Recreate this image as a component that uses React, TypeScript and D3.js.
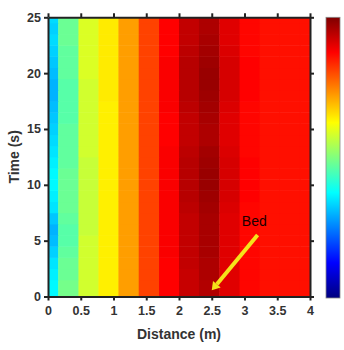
import React, { useRef, useEffect } from 'react';
import * as d3 from 'd3';

// distance grid points (m) – column centres
const distances = [0, 0.31, 0.62, 0.92, 1.23, 1.54, 1.85, 2.15, 2.46, 2.77, 3.08, 3.38, 3.69, 4];
// time grid points (s) – row centres
const times = [0, 1, 2, 3, 4, 5, 6, 7, 8, 9, 10, 11, 12, 13, 14, 15, 16, 17, 18, 19, 20, 21, 22, 23, 24, 25];

// normalised intensity, one row per time step (bottom -> top)
const values = [
  [0.37, 0.49, 0.58, 0.64, 0.72, 0.81, 0.875, 0.93, 0.95, 0.905, 0.87, 0.86, 0.86, 0.86],
  [0.37, 0.49, 0.58, 0.64, 0.72, 0.81, 0.875, 0.93, 0.95, 0.905, 0.87, 0.86, 0.86, 0.86],
  [0.36, 0.48, 0.58, 0.64, 0.72, 0.81, 0.875, 0.93, 0.955, 0.905, 0.87, 0.86, 0.86, 0.86],
  [0.35, 0.48, 0.58, 0.64, 0.72, 0.81, 0.875, 0.935, 0.955, 0.905, 0.87, 0.86, 0.86, 0.86],
  [0.33, 0.47, 0.58, 0.64, 0.72, 0.81, 0.88, 0.935, 0.96, 0.905, 0.87, 0.86, 0.86, 0.86],
  [0.31, 0.46, 0.58, 0.64, 0.72, 0.81, 0.88, 0.935, 0.96, 0.905, 0.87, 0.86, 0.86, 0.86],
  [0.30, 0.46, 0.57, 0.64, 0.72, 0.81, 0.88, 0.935, 0.96, 0.905, 0.87, 0.86, 0.86, 0.86],
  [0.32, 0.47, 0.57, 0.64, 0.72, 0.81, 0.88, 0.935, 0.96, 0.905, 0.87, 0.86, 0.86, 0.86],
  [0.35, 0.48, 0.57, 0.64, 0.72, 0.81, 0.88, 0.94, 0.965, 0.91, 0.87, 0.86, 0.86, 0.86],
  [0.36, 0.48, 0.57, 0.64, 0.72, 0.81, 0.88, 0.945, 0.97, 0.915, 0.875, 0.86, 0.86, 0.86],
  [0.37, 0.48, 0.57, 0.64, 0.72, 0.81, 0.88, 0.945, 0.975, 0.915, 0.875, 0.86, 0.86, 0.86],
  [0.37, 0.48, 0.57, 0.64, 0.72, 0.81, 0.88, 0.945, 0.975, 0.915, 0.875, 0.86, 0.86, 0.86],
  [0.36, 0.47, 0.57, 0.64, 0.72, 0.81, 0.88, 0.945, 0.97, 0.915, 0.875, 0.86, 0.86, 0.86],
  [0.35, 0.47, 0.58, 0.64, 0.72, 0.81, 0.88, 0.94, 0.965, 0.91, 0.87, 0.86, 0.86, 0.86],
  [0.34, 0.47, 0.58, 0.64, 0.72, 0.81, 0.875, 0.935, 0.955, 0.905, 0.87, 0.86, 0.86, 0.86],
  [0.33, 0.47, 0.58, 0.64, 0.72, 0.81, 0.875, 0.935, 0.955, 0.905, 0.87, 0.86, 0.86, 0.86],
  [0.32, 0.46, 0.58, 0.64, 0.72, 0.81, 0.875, 0.935, 0.96, 0.905, 0.87, 0.86, 0.86, 0.86],
  [0.31, 0.46, 0.58, 0.64, 0.72, 0.81, 0.88, 0.94, 0.965, 0.91, 0.87, 0.86, 0.86, 0.86],
  [0.30, 0.46, 0.58, 0.645, 0.72, 0.81, 0.88, 0.945, 0.97, 0.915, 0.875, 0.86, 0.86, 0.86],
  [0.30, 0.46, 0.58, 0.645, 0.72, 0.81, 0.88, 0.945, 0.975, 0.915, 0.875, 0.86, 0.86, 0.86],
  [0.31, 0.47, 0.59, 0.645, 0.72, 0.81, 0.88, 0.945, 0.975, 0.915, 0.875, 0.86, 0.86, 0.86],
  [0.32, 0.47, 0.59, 0.645, 0.72, 0.81, 0.88, 0.945, 0.97, 0.915, 0.875, 0.86, 0.86, 0.86],
  [0.33, 0.47, 0.59, 0.645, 0.72, 0.81, 0.875, 0.94, 0.965, 0.91, 0.87, 0.86, 0.86, 0.86],
  [0.34, 0.48, 0.59, 0.645, 0.72, 0.81, 0.875, 0.935, 0.96, 0.905, 0.87, 0.86, 0.86, 0.86],
  [0.33, 0.48, 0.59, 0.645, 0.72, 0.81, 0.875, 0.935, 0.955, 0.905, 0.87, 0.86, 0.86, 0.86],
  [0.34, 0.48, 0.59, 0.645, 0.72, 0.81, 0.875, 0.935, 0.955, 0.905, 0.87, 0.86, 0.86, 0.86],
];

const xTicks = [0, 0.5, 1, 1.5, 2, 2.5, 3, 3.5, 4];
const yTicks = [0, 5, 10, 15, 20, 25];

// jet colormap stops
const jetStops = [0, 0.125, 0.375, 0.625, 0.875, 1];
const jetColors = ['#00007f', '#0000ff', '#00ffff', '#ffff00', '#ff0000', '#7f0000'];

// arrow pointing at the bed, in data units
const arrowFrom = { x: 3.2, y: 5.5 };
const arrowTo = { x: 2.5, y: 0.55 };

const App: React.FC = () => {
  const svgRef = useRef<SVGSVGElement | null>(null);

  useEffect(() => {
    const svg = d3.select(svgRef.current);
    svg.selectAll('*').remove();
    const width = 344;
    const height = 350;
    const margin = { top: 17.3, right: 34, bottom: 53.5, left: 48 };
    const font = 'Arial, "Liberation Sans", sans-serif';

    svg.attr('width', width).attr('height', height).style('background', '#fff');

    const x = d3.scaleLinear().domain([0, 4]).range([margin.left, width - margin.right]);
    const y = d3.scaleLinear().domain([0, 25]).range([height - margin.bottom, margin.top]);
    const color = d3.scaleLinear<string>().domain(jetStops).range(jetColors).clamp(true);

    // cell edges halfway between grid points, clipped to the axes
    const edges = (c: number[]) => {
      const e = [c[0]];
      for (let i = 0; i < c.length - 1; i++) e.push((c[i] + c[i + 1]) / 2);
      e.push(c[c.length - 1]);
      return e;
    };
    const xe = edges(distances);
    const ye = edges(times);

    const cells: { i: number; j: number; v: number }[] = [];
    values.forEach((row, i) => row.forEach((v, j) => cells.push({ i, j, v })));

    svg.append('g')
      .selectAll('rect')
      .data(cells)
      .enter()
      .append('rect')
      .attr('x', d => x(xe[d.j]))
      .attr('y', d => y(ye[d.i + 1]))
      .attr('width', d => x(xe[d.j + 1]) - x(xe[d.j]) + 0.5)
      .attr('height', d => y(ye[d.i]) - y(ye[d.i + 1]) + 0.5)
      .attr('fill', d => color(d.v));

    // axes box with outward ticks on all sides
    const axisColor = '#222';
    const styleAxis = (g: d3.Selection<SVGGElement, unknown, null, undefined>) => {
      g.selectAll('.domain').attr('stroke', axisColor).attr('stroke-width', 2);
      g.selectAll('.tick line').attr('stroke', axisColor).attr('stroke-width', 2);
      g.selectAll('.tick text')
        .attr('fill', '#333')
        .style('font-family', font)
        .style('font-size', '12.5px')
        .style('font-weight', 'bold');
    };

    svg.append('g')
      .attr('transform', `translate(0,${height - margin.bottom})`)
      .call(d3.axisBottom(x).tickValues(xTicks).tickSize(4).tickPadding(6).tickSizeOuter(0).tickFormat(d3.format('')))
      .call(styleAxis);
    svg.append('g')
      .attr('transform', `translate(0,${margin.top})`)
      .call(d3.axisTop(x).tickValues(xTicks).tickSize(4).tickSizeOuter(0).tickFormat(() => ''))
      .call(styleAxis);
    svg.append('g')
      .attr('transform', `translate(${margin.left},0)`)
      .call(d3.axisLeft(y).tickValues(yTicks).tickSize(4).tickPadding(3).tickSizeOuter(0))
      .call(styleAxis);
    svg.append('g')
      .attr('transform', `translate(${width - margin.right},0)`)
      .call(d3.axisRight(y).tickValues(yTicks).tickSize(4).tickSizeOuter(0).tickFormat(() => ''))
      .call(styleAxis);

    // colorbar
    const cbX = 326;
    const cbW = 14;
    const defs = svg.append('defs');
    const grad = defs.append('linearGradient')
      .attr('id', 'jet')
      .attr('x1', 0).attr('y1', 1).attr('x2', 0).attr('y2', 0);
    jetStops.forEach((s, k) => {
      grad.append('stop').attr('offset', s).attr('stop-color', jetColors[k]);
    });
    svg.append('rect')
      .attr('x', cbX)
      .attr('y', y(25))
      .attr('width', cbW)
      .attr('height', y(0) - y(25) + 1.5)
      .attr('fill', 'url(#jet)')
      .attr('stroke', '#888')
      .attr('stroke-width', 0.8);

    // "Bed" annotation with arrow
    const ax1 = x(arrowFrom.x), ay1 = y(arrowFrom.y);
    const ax2 = x(arrowTo.x), ay2 = y(arrowTo.y);
    const ang = Math.atan2(ay2 - ay1, ax2 - ax1);
    const headLen = 8;
    const headW = 5;
    const bx = ax2 - headLen * Math.cos(ang);
    const by = ay2 - headLen * Math.sin(ang);
    svg.append('line')
      .attr('x1', ax1).attr('y1', ay1)
      .attr('x2', bx).attr('y2', by)
      .attr('stroke', '#f5e21a')
      .attr('stroke-width', 4);
    svg.append('path')
      .attr('d', `M${ax2},${ay2}L${bx + headW * Math.sin(ang)},${by - headW * Math.cos(ang)}L${bx - headW * Math.sin(ang)},${by + headW * Math.cos(ang)}Z`)
      .attr('fill', '#f5e21a');
    svg.append('text')
      .attr('x', x(3.15))
      .attr('y', y(6.3))
      .attr('text-anchor', 'middle')
      .style('font-family', font)
      .style('font-size', '14px')
      .attr('fill', '#1a0000')
      .text('Bed');

    // axis labels
    svg.append('text')
      .attr('x', (x(0) + x(4)) / 2)
      .attr('y', 339)
      .attr('text-anchor', 'middle')
      .attr('fill', '#333')
      .style('font-family', font)
      .style('font-size', '14px')
      .style('font-weight', 'bold')
      .text('Distance (m)');
    svg.append('text')
      .attr('transform', `translate(19,${(y(0) + y(25)) / 2}) rotate(-90)`)
      .attr('text-anchor', 'middle')
      .attr('fill', '#333')
      .style('font-family', font)
      .style('font-size', '14px')
      .style('font-weight', 'bold')
      .text('Time (s)');
  }, []);

  return (
    <div style={{ position: 'absolute', left: 0, top: 0 }}>
      <svg ref={svgRef}></svg>
    </div>
  );
};

export default App;
